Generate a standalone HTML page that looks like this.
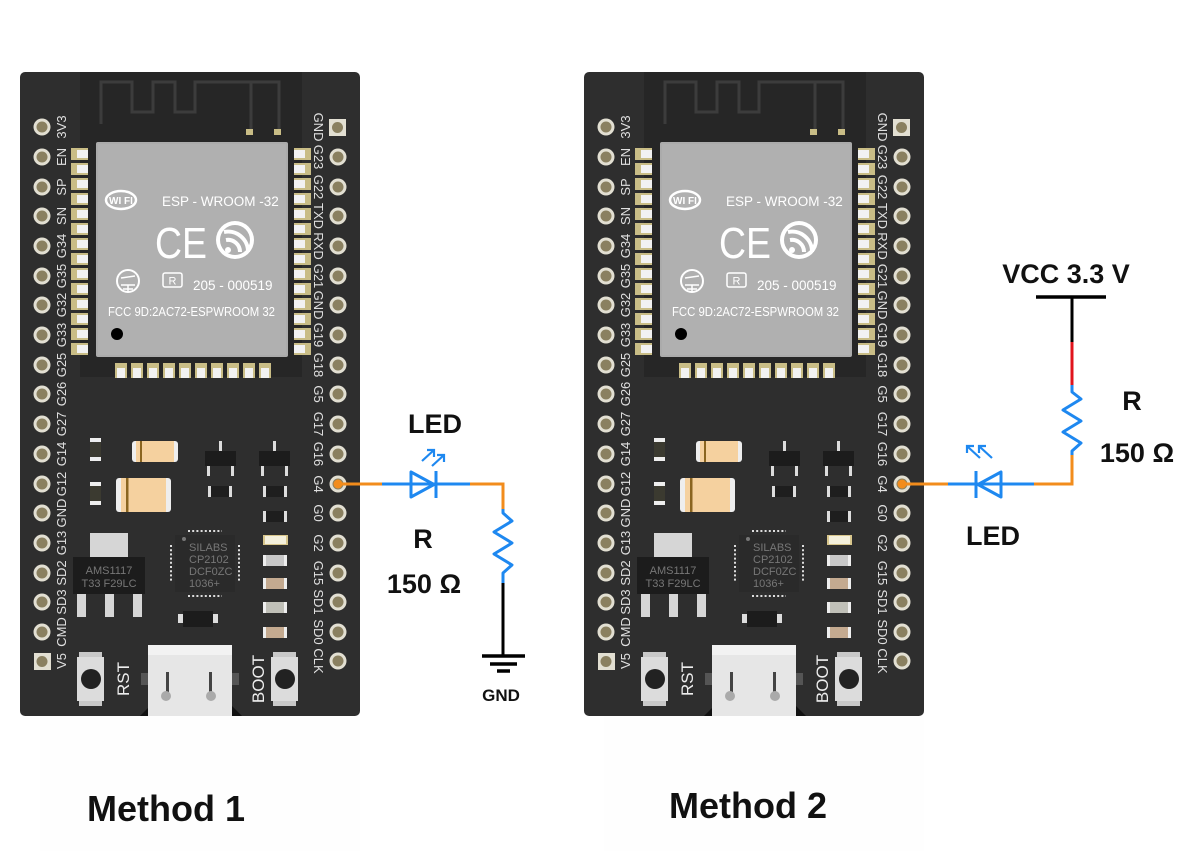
<!DOCTYPE html>
<html><head><meta charset="utf-8"><style>
html,body{margin:0;padding:0;background:#fff}
svg{display:block}
.pl{font-family:"Liberation Sans",sans-serif;font-size:13px;fill:#e0e0e0}
.bt{font-family:"Liberation Sans",sans-serif;font-size:17px;fill:#eee}
.mt{font-family:"Liberation Sans",sans-serif;fill:#fff}
.lb{font-family:"Liberation Sans",sans-serif;font-weight:bold;fill:#111}
</style></head><body>
<svg width="1200" height="851" viewBox="0 0 1200 851" xmlns="http://www.w3.org/2000/svg">
<defs>
<g id="pin"><circle r="8.5" fill="#e2dfd2"/><circle r="5.5" fill="#8a8060"/></g>
<g id="pad"><rect width="17" height="12" fill="#c9bd86"/><rect x="6" y="2" width="11" height="8" fill="#f2f2f2"/></g>
<g id="bpad"><rect width="12" height="15" fill="#c9bd86"/><rect x="2" y="5" width="8" height="10" fill="#f2f2f2"/></g>
</defs>
<rect width="1200" height="851" fill="#fff"/>
<rect x="40" y="716" width="320" height="135" fill="#fefefe"/>
<rect x="604" y="716" width="320" height="135" fill="#fefefe"/>

<!-- BOARD 1 -->
<g>
<rect x="20" y="72" width="340" height="644" rx="5" fill="#2e2e2e"/>
<rect x="80" y="72" width="222" height="305" fill="#262626"/>
<path d="M101,124 V82 H132 V112 H153 V82 H175 V112 H195 V82 H279 V132 M251,82 V132" fill="none" stroke="#3c3c3c" stroke-width="3"/>
<rect x="246" y="129" width="7" height="6" fill="#c9bd86"/><rect x="274" y="129" width="7" height="6" fill="#c9bd86"/>
<rect x="96" y="142" width="192" height="215" rx="2" fill="#ababab"/>
<rect x="98" y="144" width="188" height="211" fill="#b0b0b0"/>
<g>
<use href="#pad" x="71" y="148"/><use href="#pad" x="71" y="163"/><use href="#pad" x="71" y="178"/><use href="#pad" x="71" y="193"/><use href="#pad" x="71" y="208"/><use href="#pad" x="71" y="223"/><use href="#pad" x="71" y="238"/><use href="#pad" x="71" y="253"/><use href="#pad" x="71" y="268"/><use href="#pad" x="71" y="283"/><use href="#pad" x="71" y="298"/><use href="#pad" x="71" y="313"/><use href="#pad" x="71" y="328"/><use href="#pad" x="71" y="343"/>
</g>
<g transform="translate(382,0) scale(-1,1)">
<use href="#pad" x="71" y="148"/><use href="#pad" x="71" y="163"/><use href="#pad" x="71" y="178"/><use href="#pad" x="71" y="193"/><use href="#pad" x="71" y="208"/><use href="#pad" x="71" y="223"/><use href="#pad" x="71" y="238"/><use href="#pad" x="71" y="253"/><use href="#pad" x="71" y="268"/><use href="#pad" x="71" y="283"/><use href="#pad" x="71" y="298"/><use href="#pad" x="71" y="313"/><use href="#pad" x="71" y="328"/><use href="#pad" x="71" y="343"/>
</g>
<use href="#bpad" x="115" y="363"/><use href="#bpad" x="131" y="363"/><use href="#bpad" x="147" y="363"/><use href="#bpad" x="163" y="363"/><use href="#bpad" x="179" y="363"/><use href="#bpad" x="195" y="363"/><use href="#bpad" x="211" y="363"/><use href="#bpad" x="227" y="363"/><use href="#bpad" x="243" y="363"/><use href="#bpad" x="259" y="363"/>
<ellipse cx="121" cy="200" rx="15" ry="9" fill="none" stroke="#fff" stroke-width="2.5"/>
<text x="121" y="204" class="mt" font-size="10" font-weight="bold" text-anchor="middle">WI FI</text>
<text x="162" y="206" class="mt" font-size="13.5">ESP - WROOM -32</text>
<text x="155" y="258" class="mt" font-size="44" textLength="52" lengthAdjust="spacingAndGlyphs">CE</text>
<circle cx="235" cy="240" r="19" fill="#fff"/><circle cx="235" cy="240" r="15" fill="#b0b0b0"/>
<path d="M224,232 A20,20 0 0 1 248,252 M226,240 A12,12 0 0 1 240,252" fill="none" stroke="#fff" stroke-width="4"/>
<circle cx="228" cy="250" r="3" fill="#fff"/>
<circle cx="128" cy="281" r="11" fill="none" stroke="#fff" stroke-width="2"/>
<path d="M121,285 H135 M123,289 H133 M128,285 V292 M121,278 L135,276" stroke="#fff" stroke-width="1.5"/>
<rect x="163" y="273" width="19" height="14" rx="2" fill="none" stroke="#fff" stroke-width="1.5"/>
<text x="172.5" y="284.5" class="mt" font-size="11" text-anchor="middle">R</text>
<text x="193" y="290" class="mt" font-size="13.5">205 - 000519</text>
<text x="108" y="316" class="mt" font-size="12.5" textLength="167" lengthAdjust="spacingAndGlyphs">FCC 9D:2AC72-ESPWROOM 32</text>
<circle cx="117" cy="334" r="6" fill="#000"/>
<rect x="90" y="438" width="11" height="23" fill="#eee"/><rect x="90" y="442" width="11" height="15" fill="#3b3a30"/>
<rect x="90" y="482" width="11" height="23" fill="#eee"/><rect x="90" y="486" width="11" height="15" fill="#3b3a30"/>
<rect x="132" y="441" width="46" height="21" rx="3" fill="#eee"/><rect x="136" y="441" width="38" height="21" fill="#f5d19f"/><rect x="140" y="441" width="2" height="21" fill="#8a6520"/>
<rect x="116" y="478" width="55" height="34" rx="3" fill="#eee"/><rect x="121" y="478" width="45" height="34" fill="#f5d19f"/><rect x="126" y="478" width="2.5" height="34" fill="#8a6520"/>
<g fill="#ddd"><rect x="219" y="441" width="3" height="10"/><rect x="207" y="466" width="3" height="10"/><rect x="231" y="466" width="3" height="10"/>
<rect x="273" y="441" width="3" height="10"/><rect x="261" y="466" width="3" height="10"/><rect x="285" y="466" width="3" height="10"/></g>
<rect x="205" y="451" width="31" height="15" fill="#1c1c1c"/><rect x="259" y="451" width="31" height="15" fill="#1c1c1c"/>
<rect x="208" y="486" width="24" height="11" fill="#ddd"/><rect x="211" y="486" width="18" height="11" fill="#1e1e1e"/>
<rect x="263" y="486" width="24" height="11" fill="#ddd"/><rect x="266" y="486" width="18" height="11" fill="#1e1e1e"/>
<rect x="263" y="511" width="24" height="11" fill="#ddd"/><rect x="266" y="511" width="18" height="11" fill="#1e1e1e"/>
<rect x="263" y="535" width="25" height="10" fill="#d8c68c"/><rect x="265" y="536" width="21" height="8" fill="#f4f0dc"/>
<rect x="263" y="555" width="24" height="11" fill="#eee"/><rect x="266" y="555" width="18" height="11" fill="#c8c8c8"/>
<rect x="263" y="578" width="24" height="11" fill="#eee"/><rect x="266" y="578" width="18" height="11" fill="#c4aa90"/>
<rect x="263" y="602" width="24" height="11" fill="#eee"/><rect x="266" y="602" width="18" height="11" fill="#c0c0b8"/>
<rect x="263" y="627" width="24" height="11" fill="#eee"/><rect x="266" y="627" width="18" height="11" fill="#c4aa90"/>
<rect x="90" y="533" width="38" height="24" fill="#d6d6d6"/>
<rect x="73" y="557" width="72" height="37" fill="#1c1c1c"/>
<text x="109" y="574" font-family="Liberation Sans,sans-serif" font-size="11" fill="#777" text-anchor="middle">AMS1117</text>
<text x="109" y="587" font-family="Liberation Sans,sans-serif" font-size="11" fill="#777" text-anchor="middle">T33 F29LC</text>
<g fill="#d6d6d6"><rect x="77" y="594" width="9" height="23"/><rect x="105" y="594" width="9" height="23"/><rect x="133" y="594" width="9" height="23"/></g>
<g stroke="#ddd" stroke-width="2" stroke-dasharray="2 2.2"><path d="M188,531 H222 M188,596 H222"/><path d="M171,545 V582 M239,545 V582"/></g>
<rect x="175" y="535" width="60" height="57" fill="#2a2a2a"/>
<circle cx="184" cy="539" r="2" fill="#777"/>
<g font-family="Liberation Sans,sans-serif" font-size="11" fill="#777"><text x="189" y="551">SILABS</text><text x="189" y="563">CP2102</text><text x="189" y="575">DCF0ZC</text><text x="189" y="587">1036+</text></g>
<rect x="178" y="614" width="40" height="9" fill="#ddd"/><rect x="183" y="611" width="30" height="16" fill="#1c1c1c"/>
<rect x="79" y="652" width="23" height="54" fill="#c8c8c8"/><rect x="77" y="657" width="27" height="44" fill="#dcdcdc"/><circle cx="91" cy="679" r="10" fill="#222"/>
<text transform="translate(129,679) rotate(-90)" class="bt" text-anchor="middle">RST</text>
<rect x="273" y="652" width="23" height="54" fill="#c8c8c8"/><rect x="271" y="657" width="27" height="44" fill="#dcdcdc"/><circle cx="285" cy="679" r="10" fill="#222"/>
<text transform="translate(264,679) rotate(-90)" class="bt" text-anchor="middle">BOOT</text>
<path d="M140,716 L152,704 H230 L242,716 Z" fill="#111"/>
<rect x="141" y="673" width="10" height="12" fill="#555"/><rect x="229" y="673" width="10" height="12" fill="#555"/>
<rect x="148" y="645" width="84" height="71" fill="#e6e6e6"/><rect x="148" y="645" width="84" height="10" fill="#f2f2f2"/>
<rect x="166" y="672" width="3" height="28" fill="#444"/><rect x="209" y="672" width="3" height="28" fill="#444"/>
<circle cx="166" cy="696" r="5" fill="#aaa"/><circle cx="211" cy="696" r="5" fill="#aaa"/>
<rect x="34" y="653" width="17" height="17" fill="#e2dfd2"/><circle cx="42" cy="661.5" r="5.5" fill="#8a8060"/>
<use href="#pin" x="42" y="127"/><use href="#pin" x="42" y="157"/><use href="#pin" x="42" y="187"/><use href="#pin" x="42" y="216"/><use href="#pin" x="42" y="246"/><use href="#pin" x="42" y="276"/><use href="#pin" x="42" y="305"/><use href="#pin" x="42" y="335"/><use href="#pin" x="42" y="365"/><use href="#pin" x="42" y="394"/><use href="#pin" x="42" y="424"/><use href="#pin" x="42" y="454"/><use href="#pin" x="42" y="484"/><use href="#pin" x="42" y="513"/><use href="#pin" x="42" y="543"/><use href="#pin" x="42" y="573"/><use href="#pin" x="42" y="602"/><use href="#pin" x="42" y="632"/>
<g class="pl" text-anchor="middle">
<text transform="translate(66,127) rotate(-90)">3V3</text><text transform="translate(66,157) rotate(-90)">EN</text><text transform="translate(66,187) rotate(-90)">SP</text><text transform="translate(66,216) rotate(-90)">SN</text><text transform="translate(66,246) rotate(-90)">G34</text><text transform="translate(66,276) rotate(-90)">G35</text><text transform="translate(66,305) rotate(-90)">G32</text><text transform="translate(66,335) rotate(-90)">G33</text><text transform="translate(66,365) rotate(-90)">G25</text><text transform="translate(66,394) rotate(-90)">G26</text><text transform="translate(66,424) rotate(-90)">G27</text><text transform="translate(66,454) rotate(-90)">G14</text><text transform="translate(66,484) rotate(-90)">G12</text><text transform="translate(66,513) rotate(-90)">GND</text><text transform="translate(66,543) rotate(-90)">G13</text><text transform="translate(66,573) rotate(-90)">SD2</text><text transform="translate(66,602) rotate(-90)">SD3</text><text transform="translate(66,632) rotate(-90)">CMD</text><text transform="translate(66,661) rotate(-90)">V5</text>
</g>
<rect x="329" y="119" width="17" height="17" fill="#e2dfd2"/><circle cx="337.5" cy="127.5" r="5.5" fill="#8a8060"/>
<use href="#pin" x="338" y="157"/><use href="#pin" x="338" y="187"/><use href="#pin" x="338" y="216"/><use href="#pin" x="338" y="246"/><use href="#pin" x="338" y="276"/><use href="#pin" x="338" y="305"/><use href="#pin" x="338" y="335"/><use href="#pin" x="338" y="365"/><use href="#pin" x="338" y="394"/><use href="#pin" x="338" y="424"/><use href="#pin" x="338" y="454"/><use href="#pin" x="338" y="484"/><use href="#pin" x="338" y="513"/><use href="#pin" x="338" y="543"/><use href="#pin" x="338" y="573"/><use href="#pin" x="338" y="602"/><use href="#pin" x="338" y="632"/><use href="#pin" x="338" y="661"/>
<g class="pl" text-anchor="middle">
<text transform="translate(314,127) rotate(90)">GND</text><text transform="translate(314,157) rotate(90)">G23</text><text transform="translate(314,187) rotate(90)">G22</text><text transform="translate(314,216) rotate(90)">TXD</text><text transform="translate(314,246) rotate(90)">RXD</text><text transform="translate(314,276) rotate(90)">G21</text><text transform="translate(314,305) rotate(90)">GND</text><text transform="translate(314,335) rotate(90)">G19</text><text transform="translate(314,365) rotate(90)">G18</text><text transform="translate(314,394) rotate(90)">G5</text><text transform="translate(314,424) rotate(90)">G17</text><text transform="translate(314,454) rotate(90)">G16</text><text transform="translate(314,484) rotate(90)">G4</text><text transform="translate(314,513) rotate(90)">G0</text><text transform="translate(314,543) rotate(90)">G2</text><text transform="translate(314,573) rotate(90)">G15</text><text transform="translate(314,602) rotate(90)">SD1</text><text transform="translate(314,632) rotate(90)">SD0</text><text transform="translate(314,661) rotate(90)">CLK</text>
</g>
</g>

<!-- BOARD 2 -->
<g transform="translate(564,0)">
<rect x="20" y="72" width="340" height="644" rx="5" fill="#2e2e2e"/>
<rect x="80" y="72" width="222" height="305" fill="#262626"/>
<path d="M101,124 V82 H132 V112 H153 V82 H175 V112 H195 V82 H279 V132 M251,82 V132" fill="none" stroke="#3c3c3c" stroke-width="3"/>
<rect x="246" y="129" width="7" height="6" fill="#c9bd86"/><rect x="274" y="129" width="7" height="6" fill="#c9bd86"/>
<rect x="96" y="142" width="192" height="215" rx="2" fill="#ababab"/>
<rect x="98" y="144" width="188" height="211" fill="#b0b0b0"/>
<g>
<use href="#pad" x="71" y="148"/><use href="#pad" x="71" y="163"/><use href="#pad" x="71" y="178"/><use href="#pad" x="71" y="193"/><use href="#pad" x="71" y="208"/><use href="#pad" x="71" y="223"/><use href="#pad" x="71" y="238"/><use href="#pad" x="71" y="253"/><use href="#pad" x="71" y="268"/><use href="#pad" x="71" y="283"/><use href="#pad" x="71" y="298"/><use href="#pad" x="71" y="313"/><use href="#pad" x="71" y="328"/><use href="#pad" x="71" y="343"/>
</g>
<g transform="translate(382,0) scale(-1,1)">
<use href="#pad" x="71" y="148"/><use href="#pad" x="71" y="163"/><use href="#pad" x="71" y="178"/><use href="#pad" x="71" y="193"/><use href="#pad" x="71" y="208"/><use href="#pad" x="71" y="223"/><use href="#pad" x="71" y="238"/><use href="#pad" x="71" y="253"/><use href="#pad" x="71" y="268"/><use href="#pad" x="71" y="283"/><use href="#pad" x="71" y="298"/><use href="#pad" x="71" y="313"/><use href="#pad" x="71" y="328"/><use href="#pad" x="71" y="343"/>
</g>
<use href="#bpad" x="115" y="363"/><use href="#bpad" x="131" y="363"/><use href="#bpad" x="147" y="363"/><use href="#bpad" x="163" y="363"/><use href="#bpad" x="179" y="363"/><use href="#bpad" x="195" y="363"/><use href="#bpad" x="211" y="363"/><use href="#bpad" x="227" y="363"/><use href="#bpad" x="243" y="363"/><use href="#bpad" x="259" y="363"/>
<ellipse cx="121" cy="200" rx="15" ry="9" fill="none" stroke="#fff" stroke-width="2.5"/>
<text x="121" y="204" class="mt" font-size="10" font-weight="bold" text-anchor="middle">WI FI</text>
<text x="162" y="206" class="mt" font-size="13.5">ESP - WROOM -32</text>
<text x="155" y="258" class="mt" font-size="44" textLength="52" lengthAdjust="spacingAndGlyphs">CE</text>
<circle cx="235" cy="240" r="19" fill="#fff"/><circle cx="235" cy="240" r="15" fill="#b0b0b0"/>
<path d="M224,232 A20,20 0 0 1 248,252 M226,240 A12,12 0 0 1 240,252" fill="none" stroke="#fff" stroke-width="4"/>
<circle cx="228" cy="250" r="3" fill="#fff"/>
<circle cx="128" cy="281" r="11" fill="none" stroke="#fff" stroke-width="2"/>
<path d="M121,285 H135 M123,289 H133 M128,285 V292 M121,278 L135,276" stroke="#fff" stroke-width="1.5"/>
<rect x="163" y="273" width="19" height="14" rx="2" fill="none" stroke="#fff" stroke-width="1.5"/>
<text x="172.5" y="284.5" class="mt" font-size="11" text-anchor="middle">R</text>
<text x="193" y="290" class="mt" font-size="13.5">205 - 000519</text>
<text x="108" y="316" class="mt" font-size="12.5" textLength="167" lengthAdjust="spacingAndGlyphs">FCC 9D:2AC72-ESPWROOM 32</text>
<circle cx="117" cy="334" r="6" fill="#000"/>
<rect x="90" y="438" width="11" height="23" fill="#eee"/><rect x="90" y="442" width="11" height="15" fill="#3b3a30"/>
<rect x="90" y="482" width="11" height="23" fill="#eee"/><rect x="90" y="486" width="11" height="15" fill="#3b3a30"/>
<rect x="132" y="441" width="46" height="21" rx="3" fill="#eee"/><rect x="136" y="441" width="38" height="21" fill="#f5d19f"/><rect x="140" y="441" width="2" height="21" fill="#8a6520"/>
<rect x="116" y="478" width="55" height="34" rx="3" fill="#eee"/><rect x="121" y="478" width="45" height="34" fill="#f5d19f"/><rect x="126" y="478" width="2.5" height="34" fill="#8a6520"/>
<g fill="#ddd"><rect x="219" y="441" width="3" height="10"/><rect x="207" y="466" width="3" height="10"/><rect x="231" y="466" width="3" height="10"/>
<rect x="273" y="441" width="3" height="10"/><rect x="261" y="466" width="3" height="10"/><rect x="285" y="466" width="3" height="10"/></g>
<rect x="205" y="451" width="31" height="15" fill="#1c1c1c"/><rect x="259" y="451" width="31" height="15" fill="#1c1c1c"/>
<rect x="208" y="486" width="24" height="11" fill="#ddd"/><rect x="211" y="486" width="18" height="11" fill="#1e1e1e"/>
<rect x="263" y="486" width="24" height="11" fill="#ddd"/><rect x="266" y="486" width="18" height="11" fill="#1e1e1e"/>
<rect x="263" y="511" width="24" height="11" fill="#ddd"/><rect x="266" y="511" width="18" height="11" fill="#1e1e1e"/>
<rect x="263" y="535" width="25" height="10" fill="#d8c68c"/><rect x="265" y="536" width="21" height="8" fill="#f4f0dc"/>
<rect x="263" y="555" width="24" height="11" fill="#eee"/><rect x="266" y="555" width="18" height="11" fill="#c8c8c8"/>
<rect x="263" y="578" width="24" height="11" fill="#eee"/><rect x="266" y="578" width="18" height="11" fill="#c4aa90"/>
<rect x="263" y="602" width="24" height="11" fill="#eee"/><rect x="266" y="602" width="18" height="11" fill="#c0c0b8"/>
<rect x="263" y="627" width="24" height="11" fill="#eee"/><rect x="266" y="627" width="18" height="11" fill="#c4aa90"/>
<rect x="90" y="533" width="38" height="24" fill="#d6d6d6"/>
<rect x="73" y="557" width="72" height="37" fill="#1c1c1c"/>
<text x="109" y="574" font-family="Liberation Sans,sans-serif" font-size="11" fill="#777" text-anchor="middle">AMS1117</text>
<text x="109" y="587" font-family="Liberation Sans,sans-serif" font-size="11" fill="#777" text-anchor="middle">T33 F29LC</text>
<g fill="#d6d6d6"><rect x="77" y="594" width="9" height="23"/><rect x="105" y="594" width="9" height="23"/><rect x="133" y="594" width="9" height="23"/></g>
<g stroke="#ddd" stroke-width="2" stroke-dasharray="2 2.2"><path d="M188,531 H222 M188,596 H222"/><path d="M171,545 V582 M239,545 V582"/></g>
<rect x="175" y="535" width="60" height="57" fill="#2a2a2a"/>
<circle cx="184" cy="539" r="2" fill="#777"/>
<g font-family="Liberation Sans,sans-serif" font-size="11" fill="#777"><text x="189" y="551">SILABS</text><text x="189" y="563">CP2102</text><text x="189" y="575">DCF0ZC</text><text x="189" y="587">1036+</text></g>
<rect x="178" y="614" width="40" height="9" fill="#ddd"/><rect x="183" y="611" width="30" height="16" fill="#1c1c1c"/>
<rect x="79" y="652" width="23" height="54" fill="#c8c8c8"/><rect x="77" y="657" width="27" height="44" fill="#dcdcdc"/><circle cx="91" cy="679" r="10" fill="#222"/>
<text transform="translate(129,679) rotate(-90)" class="bt" text-anchor="middle">RST</text>
<rect x="273" y="652" width="23" height="54" fill="#c8c8c8"/><rect x="271" y="657" width="27" height="44" fill="#dcdcdc"/><circle cx="285" cy="679" r="10" fill="#222"/>
<text transform="translate(264,679) rotate(-90)" class="bt" text-anchor="middle">BOOT</text>
<path d="M140,716 L152,704 H230 L242,716 Z" fill="#111"/>
<rect x="141" y="673" width="10" height="12" fill="#555"/><rect x="229" y="673" width="10" height="12" fill="#555"/>
<rect x="148" y="645" width="84" height="71" fill="#e6e6e6"/><rect x="148" y="645" width="84" height="10" fill="#f2f2f2"/>
<rect x="166" y="672" width="3" height="28" fill="#444"/><rect x="209" y="672" width="3" height="28" fill="#444"/>
<circle cx="166" cy="696" r="5" fill="#aaa"/><circle cx="211" cy="696" r="5" fill="#aaa"/>
<rect x="34" y="653" width="17" height="17" fill="#e2dfd2"/><circle cx="42" cy="661.5" r="5.5" fill="#8a8060"/>
<use href="#pin" x="42" y="127"/><use href="#pin" x="42" y="157"/><use href="#pin" x="42" y="187"/><use href="#pin" x="42" y="216"/><use href="#pin" x="42" y="246"/><use href="#pin" x="42" y="276"/><use href="#pin" x="42" y="305"/><use href="#pin" x="42" y="335"/><use href="#pin" x="42" y="365"/><use href="#pin" x="42" y="394"/><use href="#pin" x="42" y="424"/><use href="#pin" x="42" y="454"/><use href="#pin" x="42" y="484"/><use href="#pin" x="42" y="513"/><use href="#pin" x="42" y="543"/><use href="#pin" x="42" y="573"/><use href="#pin" x="42" y="602"/><use href="#pin" x="42" y="632"/>
<g class="pl" text-anchor="middle">
<text transform="translate(66,127) rotate(-90)">3V3</text><text transform="translate(66,157) rotate(-90)">EN</text><text transform="translate(66,187) rotate(-90)">SP</text><text transform="translate(66,216) rotate(-90)">SN</text><text transform="translate(66,246) rotate(-90)">G34</text><text transform="translate(66,276) rotate(-90)">G35</text><text transform="translate(66,305) rotate(-90)">G32</text><text transform="translate(66,335) rotate(-90)">G33</text><text transform="translate(66,365) rotate(-90)">G25</text><text transform="translate(66,394) rotate(-90)">G26</text><text transform="translate(66,424) rotate(-90)">G27</text><text transform="translate(66,454) rotate(-90)">G14</text><text transform="translate(66,484) rotate(-90)">G12</text><text transform="translate(66,513) rotate(-90)">GND</text><text transform="translate(66,543) rotate(-90)">G13</text><text transform="translate(66,573) rotate(-90)">SD2</text><text transform="translate(66,602) rotate(-90)">SD3</text><text transform="translate(66,632) rotate(-90)">CMD</text><text transform="translate(66,661) rotate(-90)">V5</text>
</g>
<rect x="329" y="119" width="17" height="17" fill="#e2dfd2"/><circle cx="337.5" cy="127.5" r="5.5" fill="#8a8060"/>
<use href="#pin" x="338" y="157"/><use href="#pin" x="338" y="187"/><use href="#pin" x="338" y="216"/><use href="#pin" x="338" y="246"/><use href="#pin" x="338" y="276"/><use href="#pin" x="338" y="305"/><use href="#pin" x="338" y="335"/><use href="#pin" x="338" y="365"/><use href="#pin" x="338" y="394"/><use href="#pin" x="338" y="424"/><use href="#pin" x="338" y="454"/><use href="#pin" x="338" y="484"/><use href="#pin" x="338" y="513"/><use href="#pin" x="338" y="543"/><use href="#pin" x="338" y="573"/><use href="#pin" x="338" y="602"/><use href="#pin" x="338" y="632"/><use href="#pin" x="338" y="661"/>
<g class="pl" text-anchor="middle">
<text transform="translate(314,127) rotate(90)">GND</text><text transform="translate(314,157) rotate(90)">G23</text><text transform="translate(314,187) rotate(90)">G22</text><text transform="translate(314,216) rotate(90)">TXD</text><text transform="translate(314,246) rotate(90)">RXD</text><text transform="translate(314,276) rotate(90)">G21</text><text transform="translate(314,305) rotate(90)">GND</text><text transform="translate(314,335) rotate(90)">G19</text><text transform="translate(314,365) rotate(90)">G18</text><text transform="translate(314,394) rotate(90)">G5</text><text transform="translate(314,424) rotate(90)">G17</text><text transform="translate(314,454) rotate(90)">G16</text><text transform="translate(314,484) rotate(90)">G4</text><text transform="translate(314,513) rotate(90)">G0</text><text transform="translate(314,543) rotate(90)">G2</text><text transform="translate(314,573) rotate(90)">G15</text><text transform="translate(314,602) rotate(90)">SD1</text><text transform="translate(314,632) rotate(90)">SD0</text><text transform="translate(314,661) rotate(90)">CLK</text>
</g>
</g>

<!-- CIRCUIT 1 -->
<g fill="none" stroke-width="3">
<path d="M338,484 H382" stroke="#f28c1c"/>
<path d="M382,484 H470" stroke="#1e88f0"/>
<path d="M470,484 H503 V509" stroke="#f28c1c"/>
<path d="M411,472 V497 L434,484.5 Z M436,471 V498" stroke="#1e88f0" stroke-linejoin="round"/>
<path d="M503,509 V513 L512,521 L494,532 L512,543 L494,554 L512,565 L503,573 V583" stroke="#1e88f0" stroke-linejoin="round"/>
<path d="M503,583 V656" stroke="#000"/>
<path d="M482,656 H525 M490,664 H517 M497,671 H510" stroke="#000" stroke-width="3.5"/>
<path d="M422,461 L434,450 M427,450 H434 V457 M432,466 L444,455 M437,455 H444 V462" stroke="#1e88f0" stroke-width="2.2"/>
</g>
<circle cx="338" cy="484" r="4.5" fill="#f28c1c"/>
<text x="435" y="433" class="lb" font-size="27" text-anchor="middle">LED</text>
<text x="423" y="548" class="lb" font-size="27" text-anchor="middle">R</text>
<text x="424" y="593" class="lb" font-size="27" text-anchor="middle">150 Ω</text>
<text x="501" y="701" class="lb" font-size="17" text-anchor="middle">GND</text>

<!-- CIRCUIT 2 -->
<g fill="none" stroke-width="3">
<path d="M902,484 H948" stroke="#f28c1c"/>
<path d="M948,484 H1034" stroke="#1e88f0"/>
<path d="M1034,484 H1072 V455" stroke="#f28c1c"/>
<path d="M1001,472 V497 L978,484.5 Z M976,471 V498" stroke="#1e88f0" stroke-linejoin="round"/>
<path d="M1072,455 V451 L1081,443 L1063,432 L1081,421 L1063,410 L1081,399 L1072,392 V385" stroke="#1e88f0" stroke-linejoin="round"/>
<path d="M1072,385 V342" stroke="#e0141c"/>
<path d="M1072,342 V297" stroke="#000"/>
<path d="M1036,297 H1106" stroke="#000" stroke-width="3.5"/>
<path d="M980,458 L968,447 M967,453 V446 H974 M992,458 L980,447 M979,453 V446 H986" stroke="#1e88f0" stroke-width="2.2"/>
</g>
<circle cx="902" cy="484" r="4.5" fill="#f28c1c"/>
<text x="1066" y="283" class="lb" font-size="27" text-anchor="middle">VCC 3.3 V</text>
<text x="1132" y="410" class="lb" font-size="27" text-anchor="middle">R</text>
<text x="1137" y="462" class="lb" font-size="27" text-anchor="middle">150 Ω</text>
<text x="993" y="545" class="lb" font-size="27" text-anchor="middle">LED</text>

<text x="87" y="821" class="lb" font-size="36">Method 1</text>
<text x="669" y="818" class="lb" font-size="36">Method 2</text>
</svg>
</body></html>
